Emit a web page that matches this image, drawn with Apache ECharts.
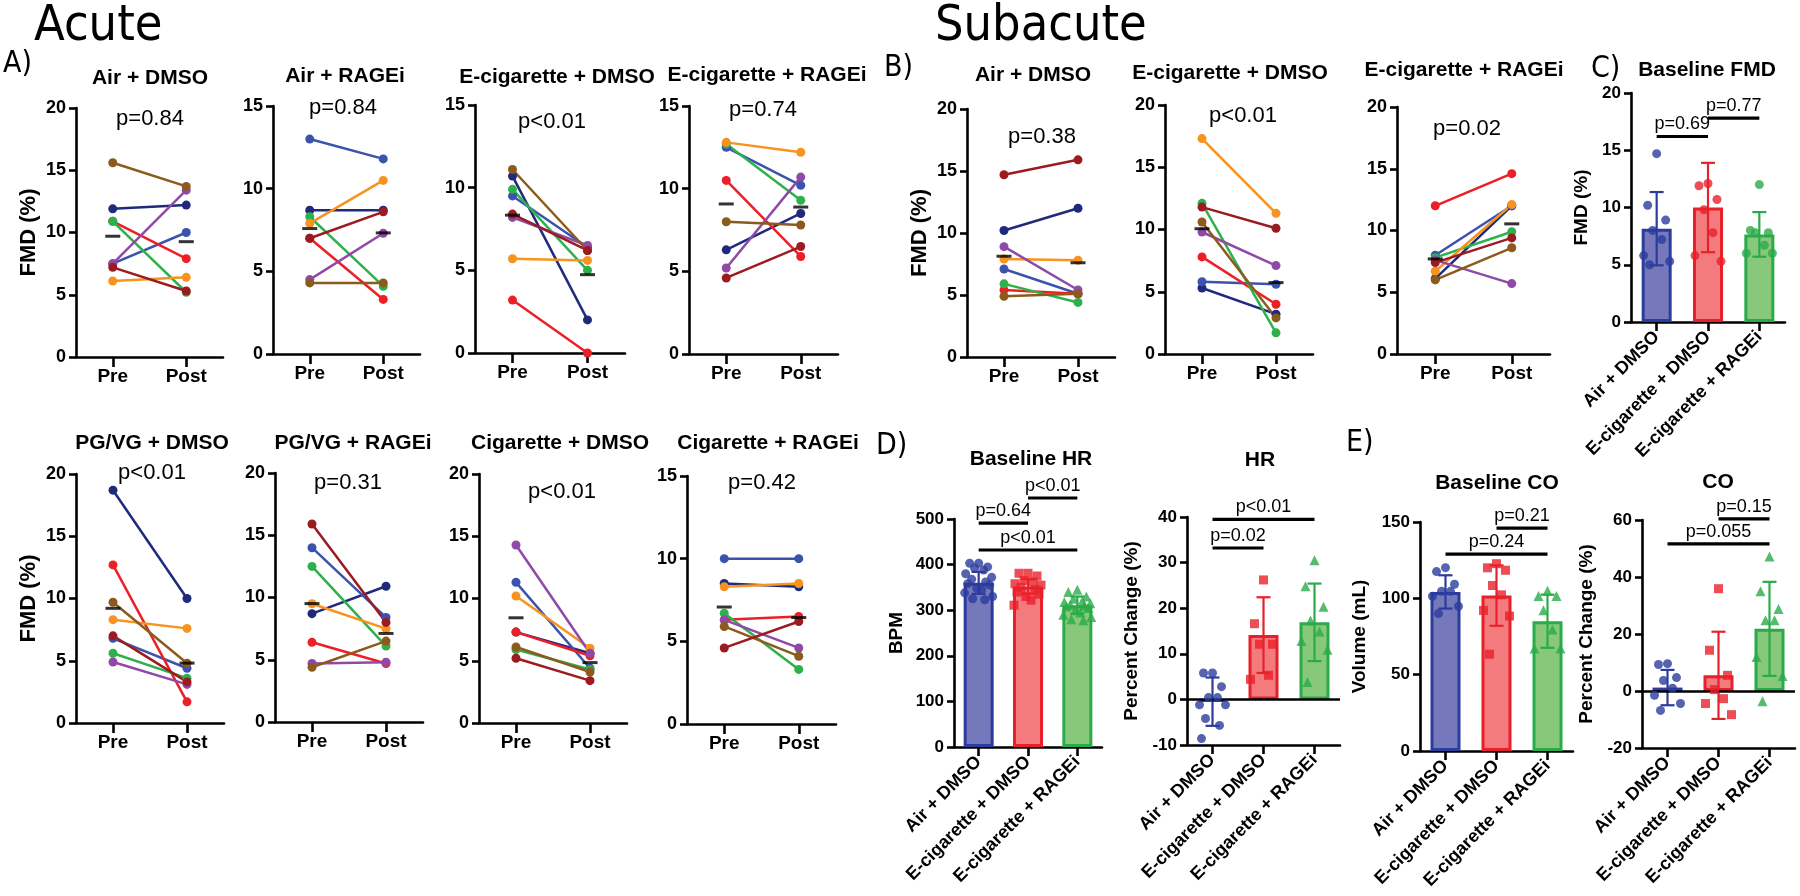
<!DOCTYPE html>
<html>
<head>
<meta charset="utf-8">
<title>Acute and subacute FMD, HR and CO</title>
<script src="https://cdn.jsdelivr.net/npm/echarts@6/dist/echarts.min.js"></script>
<style>
  html, body { margin: 0; padding: 0; background: #fff; }
  #chart { width: 1800px; height: 896px; }
</style>
</head>
<body>
<div id="chart"></div>
<script>
// subject colours, same order in every paired panel
const subjectColors = ['#1f2a7c', '#3b53ad', '#ec1f26', '#2eb14c', '#f7931e', '#8e4aa6', '#8c5a1d', '#9c1b20'];
const timepoints = ['Pre', 'Post'];

// paired Pre/Post FMD panels (A: acute, B: subacute)
const pairedTitles = [
    'Air + DMSO', 'Air + RAGEi', 'E-cigarette + DMSO', 'E-cigarette + RAGEi',
    'PG/VG + DMSO', 'PG/VG + RAGEi', 'Cigarette + DMSO', 'Cigarette + RAGEi',
    'Air + DMSO', 'E-cigarette + DMSO', 'E-cigarette + RAGEi'
];
const pairedPValues = ['p=0.84', 'p=0.84', 'p<0.01', 'p=0.74', 'p<0.01', 'p=0.31', 'p<0.01', 'p=0.42', 'p=0.38', 'p<0.01', 'p=0.02'];
const pairedMax = [20, 15, 15, 15, 20, 20, 20, 15, 20, 20, 20];
const pairedPre = [
    [11.9, 7.5, 10.9, 10.9, 6.1, 7.5, 15.6, 7.2],
    [8.7, 13.0, 7.0, 8.3, 7.9, 4.5, 4.3, 7.0],
    [10.7, 9.5, 3.2, 9.9, 5.7, 8.2, 11.1, 8.4],
    [6.3, 12.5, 10.5, 12.7, 12.8, 5.2, 8.0, 4.6],
    [18.7, 6.8, 12.7, 5.6, 8.3, 4.9, 9.7, 7.0],
    [8.7, 14.0, 6.4, 12.5, 9.5, 4.7, 4.4, 15.9],
    [7.3, 11.3, 7.3, 5.9, 10.2, 14.3, 6.1, 5.2],
    [8.5, 10.0, 6.3, 6.7, 8.3, 6.3, 5.9, 4.6],
    [10.2, 7.1, 5.4, 5.9, 7.9, 8.9, 4.9, 14.7],
    [5.3, 5.8, 7.8, 12.1, 17.3, 9.8, 10.6, 11.8],
    [6.1, 8.0, 12.0, 7.8, 6.7, 7.6, 6.0, 7.4]
];
const pairedPost = [
    [12.2, 10.0, 7.9, 5.2, 6.4, 13.4, 13.7, 5.3],
    [8.7, 11.8, 3.3, 4.1, 10.5, 7.3, 4.3, 8.6],
    [2.0, 6.4, 0.0, 5.0, 5.6, 6.5, 6.2, 6.2],
    [8.5, 10.2, 5.9, 9.3, 12.2, 10.7, 7.8, 6.5],
    [10.0, 4.4, 1.7, 3.6, 7.6, 3.1, 4.8, 3.3],
    [10.9, 8.4, 4.7, 6.1, 7.5, 4.8, 6.5, 8.0],
    [5.6, 4.4, 5.4, 4.3, 6.0, 5.6, 4.1, 3.4],
    [8.3, 10.0, 6.5, 3.3, 8.5, 4.6, 4.1, 6.2],
    [12.0, 5.1, 5.1, 4.4, 7.8, 5.4, 5.1, 15.9],
    [3.2, 5.6, 4.0, 1.7, 11.3, 7.1, 2.9, 10.1],
    [12.0, 12.0, 14.6, 9.9, 12.1, 5.7, 8.6, 9.4]
];

// bar panels (C, D, E)
const groups = ['Air + DMSO', 'E-cigarette + DMSO', 'E-cigarette + RAGEi'];
const barTitles = ['Baseline FMD', 'Baseline HR', 'HR', 'Baseline CO', 'CO'];
const barYNames = ['FMD (%)', 'BPM', 'Percent Change (%)', 'Volume (mL)', 'Percent Change (%)'];
const barAxisMin = [0, 0, -10, 0, -20];
const barAxisMax = [20, 500, 40, 150, 60];
const barAxisStep = [5, 100, 10, 50, 20];
const barMeans = [
    [8.15, 10.0, 7.65],
    [360, 352, 311],
    [-0.5, 14.1, 16.9],
    [104.2, 101.8, 85.0],
    [1.2, 5.5, 21.8]
];
const barSD = [
    [3.2, 3.9, 1.95],
    [24, 16, 19],
    [5.3, 8.3, 8.5],
    [10.9, 19.8, 17.4],
    [6.2, 15.3, 16.5]
];
const barPoints = [
    [
        [14.7, 10.2, 8.9, 8.0, 7.2, 5.8, 5.3, 5.0],
        [12.1, 11.9, 10.7, 9.8, 7.8, 5.8, 5.3],
        [12.0, 8.0, 7.8, 7.8, 6.7, 6.0, 6.0]
    ],
    [
        [403, 403, 395, 392, 388, 380, 372, 368, 362, 358, 355, 348, 345, 338, 330, 325, 323],
        [381, 381, 375, 365, 362, 358, 355, 350, 345, 340, 335, 330, 322, 311],
        [345, 340, 330, 325, 320, 318, 315, 312, 310, 308, 305, 300, 295, 290, 285, 280, 278]
    ],
    [
        [5.8, 5.8, 2.8, 0.4, 0.4, -1.2, -1.2, -4.2, -5.7, -8.6],
        [26.2, 16.6, 12.1, 12.1, 5.3, 4.4],
        [30.5, 24.8, 20.3, 17.3, 14.9, 12.8, 10.9, 3.8]
    ],
    [
        [120.1, 117.5, 109.2, 104.6, 104.6, 101.4, 94.8, 90.0],
        [122.7, 120.0, 118.4, 108.4, 102.3, 92.1, 88.4, 63.4],
        [104.9, 101.6, 101.6, 92.2, 79.6, 67.1, 67.1]
    ],
    [
        [9.6, 9.3, 4.7, 3.7, 1.0, -1.5, -4.4, -6.8],
        [35.9, 14.3, 5.5, 0.5, -2.7, -4.4, -8.3],
        [47.2, 35.0, 28.8, 24.8, 24.8, 11.9, 5.3, -3.6]
    ]
];
const pointSymbols = [
    ['circle', 'circle', 'circle'],
    ['circle', 'rect', 'triangle'],
    ['circle', 'rect', 'triangle'],
    ['circle', 'rect', 'triangle'],
    ['circle', 'rect', 'triangle']
];
// significance brackets: panel, from group, to group, height, label
const sigPanel = [0, 0, 1, 1, 1, 2, 2, 3, 3, 4, 4];
const sigFrom = [0, 1, 0, 1, 0, 0, 0, 1, 0, 1, 0];
const sigTo = [1, 2, 1, 2, 2, 1, 2, 2, 2, 2, 2];
const sigLevel = [16.2, 17.8, 491, 546, 432, 33.2, 39.5, 146, 129, 60.4, 51.6];
const sigText = ['p=0.69', 'p=0.77', 'p=0.64', 'p<0.01', 'p<0.01', 'p=0.02', 'p<0.01', 'p=0.21', 'p=0.24', 'p=0.15', 'p=0.055'];

// layout
const pairedLayout = [
    [76, 108, 147, 249], [273, 106, 147, 248], [475, 105, 150, 248], [689, 106, 149, 248],
    [76, 474, 148, 249], [275, 473, 148, 249], [479, 474, 148, 249], [687, 476, 149, 248],
    [967, 109, 148, 248], [1165, 105, 148, 249], [1397, 107, 153, 247]
];
const pairedTitlePos = [[150, 78], [345, 76], [557, 77], [767, 75], [152, 443], [353, 443], [560, 443], [768, 443], [1033, 75], [1230, 73], [1464, 70]];
const pairedPPos = [[150, 119], [343, 108], [552, 122], [763, 110], [152, 473], [348, 483], [562, 492], [762, 483], [1042, 137], [1243, 116], [1467, 129]];
const pairedShowName = [true, false, false, false, true, false, false, false, true, false, false];
const barLayout = [[1631, 93, 154, 229], [954, 519, 148, 228], [1187, 517, 153, 228], [1420, 522, 153, 229], [1642, 520, 153, 228]];
const barTitlePos = [[1707, 70], [1031, 459], [1260, 460], [1497, 483], [1718, 482]];
const barNameGap = [40, 48, 46, 51, 46];
const groupFill = ['#7579bb', '#f37a7d', '#88c87a'];
const groupStroke = ['#2b3c9c', '#e8202a', '#2aab4a'];
const jitter = [0, -9, 9, -4, 5, -13, 13, -7, 7, -11, 11, -2, 3, -14, 14, -6, 6];

const FONT = '"Liberation Sans", Arial, sans-serif';
const NARROW = '"Liberation Sans Narrow", "DejaVu Sans Condensed", sans-serif';

const mean = arr => arr.reduce((a, b) => a + b, 0) / arr.length;

const chart = echarts.init(document.getElementById('chart'));

const grids = [];
const xAxes = [];
const yAxes = [];
const series = [];

function axisLineStyle() {
    return { show: true, onZero: false, lineStyle: { color: '#000', width: 2.6 } };
}

pairedLayout.forEach((l, g) => {
    grids.push({ left: l[0], top: l[1], width: l[2], height: l[3], outerBoundsMode: 'none', containLabel: false });
    xAxes.push({
        type: 'category', gridIndex: g, data: timepoints, boundaryGap: true,
        axisLine: axisLineStyle(),
        axisTick: { show: true, alignWithLabel: true, length: 10, lineStyle: { color: '#000', width: 2.6 } },
        axisLabel: { interval: 0, margin: 10, color: '#000', fontSize: 19, fontWeight: 'bold', fontFamily: FONT },
        splitLine: { show: false }
    });
    yAxes.push({
        type: 'value', gridIndex: g, min: 0, max: pairedMax[g], interval: 5,
        name: pairedShowName[g] ? 'FMD (%)' : '', nameLocation: 'middle', nameRotate: 90, nameGap: 36,
        nameTextStyle: { color: '#000', fontSize: 22, fontWeight: 'bold', fontFamily: FONT },
        axisLine: axisLineStyle(),
        axisTick: { show: true, length: 7, lineStyle: { color: '#000', width: 2.6 } },
        axisLabel: { margin: 10, color: '#000', fontSize: 18, fontWeight: 'bold', fontFamily: FONT },
        splitLine: { show: false }
    });

    subjectColors.forEach((c, s) => {
        series.push({
            type: 'line', xAxisIndex: g, yAxisIndex: g,
            data: [pairedPre[g][s], pairedPost[g][s]],
            symbol: 'circle', symbolSize: 9, showSymbol: true,
            lineStyle: { color: c, width: 2.5 }, itemStyle: { color: c },
            animation: false, silent: true, z: 3
        });
    });
    series.push({
        type: 'scatter', xAxisIndex: g, yAxisIndex: g,
        data: [['Pre', mean(pairedPre[g])], ['Post', mean(pairedPost[g])]],
        symbol: 'rect', symbolSize: [15, 3], itemStyle: { color: '#000' },
        animation: false, silent: true, z: 6
    });
});

function renderErrorBar(params, api) {
    const x = api.value(0);
    const top = api.coord([x, api.value(2)]);
    const bot = api.coord([x, api.value(1)]);
    const half = 7;
    const style = { stroke: api.visual('color'), lineWidth: 2.2 };
    return {
        type: 'group',
        children: [
            { type: 'line', shape: { x1: top[0], y1: top[1], x2: bot[0], y2: bot[1] }, style },
            { type: 'line', shape: { x1: top[0] - half, y1: top[1], x2: top[0] + half, y2: top[1] }, style },
            { type: 'line', shape: { x1: bot[0] - half, y1: bot[1], x2: bot[0] + half, y2: bot[1] }, style }
        ]
    };
}

barLayout.forEach((l, p) => {
    const g = pairedLayout.length + p;
    grids.push({ left: l[0], top: l[1], width: l[2], height: l[3], outerBoundsMode: 'none', containLabel: false });
    xAxes.push({
        type: 'category', gridIndex: g, data: groups, boundaryGap: true,
        axisLine: axisLineStyle(),
        axisTick: { show: true, alignWithLabel: true, length: 9, lineStyle: { color: '#000', width: 2.6 } },
        axisLabel: { interval: 0, rotate: 45, margin: 12, color: '#000', fontSize: 18, fontWeight: 'bold', fontFamily: FONT },
        splitLine: { show: false }
    });
    yAxes.push({
        type: 'value', gridIndex: g, min: barAxisMin[p], max: barAxisMax[p], interval: barAxisStep[p],
        name: barYNames[p], nameLocation: 'middle', nameRotate: 90, nameGap: barNameGap[p],
        nameTextStyle: { color: '#000', fontSize: 19, fontWeight: 'bold', fontFamily: FONT },
        axisLine: axisLineStyle(),
        axisTick: { show: true, length: 7, lineStyle: { color: '#000', width: 2.6 } },
        axisLabel: { margin: 10, color: '#000', fontSize: 17, fontWeight: 'bold', fontFamily: FONT },
        splitLine: { show: false }
    });

    const bar = {
        type: 'bar', xAxisIndex: g, yAxisIndex: g, barWidth: 30,
        data: barMeans[p].map((m, i) => ({
            value: m,
            itemStyle: { color: groupFill[i], borderColor: groupStroke[i], borderWidth: 3 }
        })),
        animation: false, silent: true, z: 2
    };
    if (barAxisMin[p] < 0) {
        bar.markLine = {
            silent: true, symbol: 'none', animation: false,
            label: { show: false },
            lineStyle: { color: '#000', width: 2.6, type: 'solid' },
            data: [{ yAxis: 0 }]
        };
    }
    series.push(bar);

    series.push({
        type: 'custom', xAxisIndex: g, yAxisIndex: g,
        renderItem: renderErrorBar,
        encode: { x: 0, y: [1, 2] },
        data: barMeans[p].map((m, i) => ({
            value: [i, m - barSD[p][i], m + barSD[p][i]],
            itemStyle: { color: groupStroke[i] }
        })),
        animation: false, silent: true, z: 4
    });

    barPoints[p].forEach((pts, i) => {
        series.push({
            type: 'scatter', xAxisIndex: g, yAxisIndex: g,
            symbol: pointSymbols[p][i],
            symbolSize: pointSymbols[p][i] === 'triangle' ? 10 : 9,
            data: pts.map((v, k) => ({ value: [i, v], symbolOffset: [jitter[k % jitter.length], 0] })),
            itemStyle: { color: groupStroke[i] },
            animation: false, silent: true, z: 5
        });
    });
});

chart.setOption({
    backgroundColor: '#fff',
    animation: false,
    grid: grids,
    xAxis: xAxes,
    yAxis: yAxes,
    series: series
});

// text annotations
function text(str, x, y, font, align) {
    return {
        type: 'text', x: x, y: y, silent: true, z: 100,
        style: {
            text: str, font: font, fill: '#000',
            align: align || 'center', textAlign: align || 'center',
            verticalAlign: 'middle', textVerticalAlign: 'middle'
        }
    };
}

const graphics = [
    text('Acute', 34, 27, 'normal 50px ' + NARROW, 'left'),
    text('Subacute', 935, 27, 'normal 50px ' + NARROW, 'left'),
    text('A)', 3, 64, 'normal 30px ' + NARROW, 'left'),
    text('B)', 884, 68, 'normal 30px ' + NARROW, 'left'),
    text('C)', 1591, 69, 'normal 30px ' + NARROW, 'left'),
    text('D)', 876, 446, 'normal 30px ' + NARROW, 'left'),
    text('E)', 1346, 443, 'normal 30px ' + NARROW, 'left')
];

pairedTitles.forEach((t, g) => {
    graphics.push(text(t, pairedTitlePos[g][0], pairedTitlePos[g][1], 'bold 21px ' + FONT));
    graphics.push(text(pairedPValues[g], pairedPPos[g][0], pairedPPos[g][1], 'normal 22px ' + FONT));
});
barTitles.forEach((t, p) => {
    graphics.push(text(t, barTitlePos[p][0], barTitlePos[p][1], 'bold 21px ' + FONT));
});

// significance brackets placed through each panel's own scales
sigPanel.forEach((p, k) => {
    const gridIndex = pairedLayout.length + p;
    const a = chart.convertToPixel({ gridIndex }, [sigFrom[k], sigLevel[k]]);
    const b = chart.convertToPixel({ gridIndex }, [sigTo[k], sigLevel[k]]);
    graphics.push({
        type: 'line', silent: true, z: 100,
        shape: { x1: a[0], y1: a[1], x2: b[0], y2: b[1] },
        style: { stroke: '#000', lineWidth: 3.2 }
    });
    const t = text(sigText[k], (a[0] + b[0]) / 2, a[1] - 3, 'normal 18px ' + FONT);
    t.style.verticalAlign = 'bottom';
    t.style.textVerticalAlign = 'bottom';
    graphics.push(t);
});

chart.setOption({ graphic: graphics });
window.addEventListener('resize', () => chart.resize());
</script>
</body>
</html>
